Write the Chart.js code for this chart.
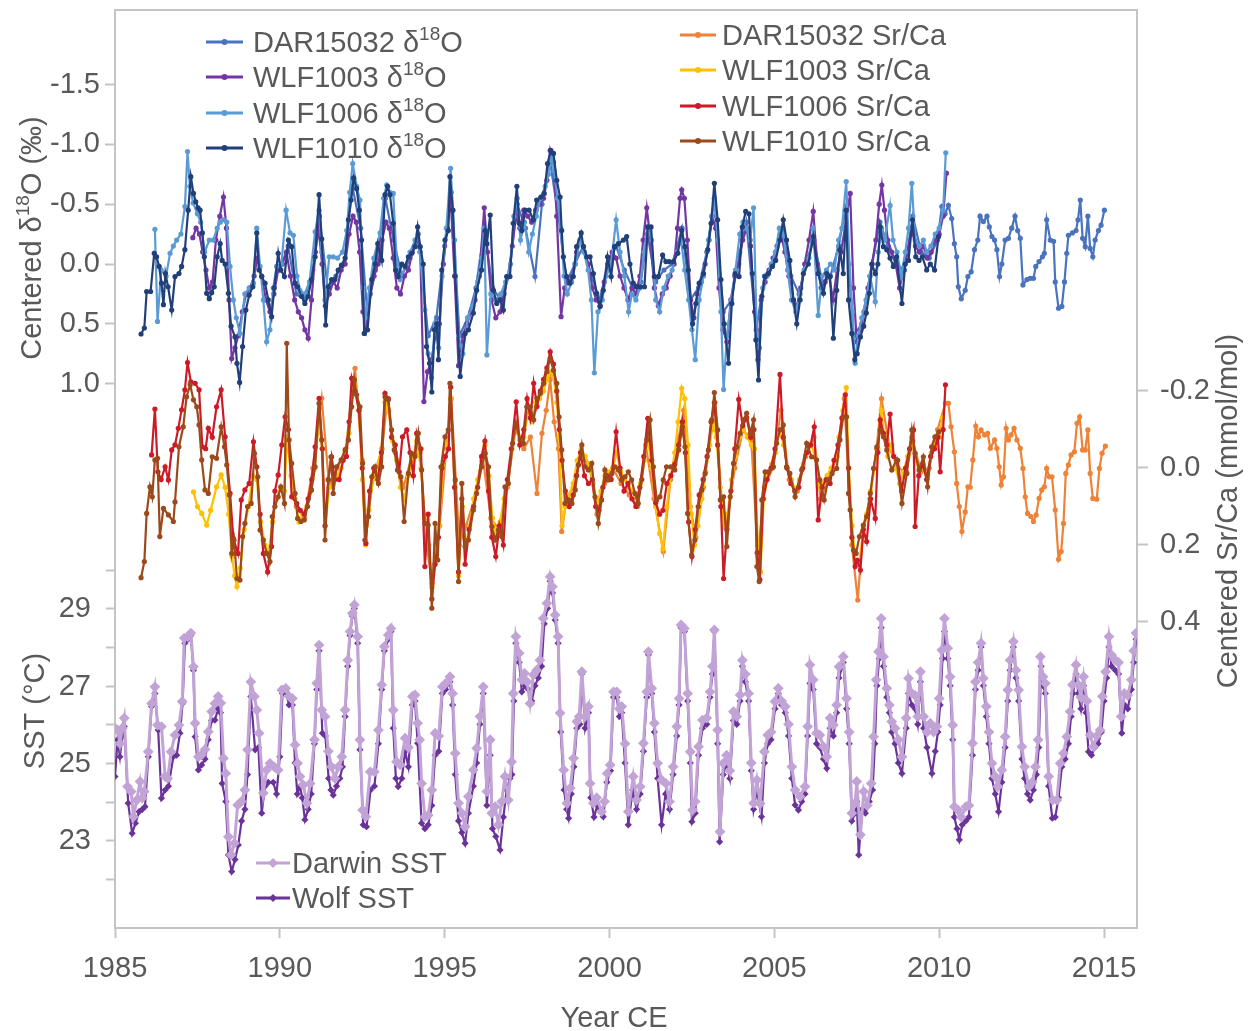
<!DOCTYPE html>
<html>
<head>
<meta charset="utf-8">
<script src="https://cdn.jsdelivr.net/npm/chart.js@4.4.1/dist/chart.umd.min.js"></script>
<style>
html,body{margin:0;padding:0;background:#fff;}
#wrap{width:1250px;height:1031px;}
</style>
</head>
<body>
<div id="wrap"><canvas id="c" width="1250" height="1031"></canvas></div>
<script>
// ---------- tick values ----------
const X_TICKS = [1985, 1990, 1995, 2000, 2005, 2010, 2015];
const O_TICKS = [-1.5, -1.0, -0.5, 0.0, 0.5, 1.0];
const SR_TICKS = [-0.2, 0.0, 0.2, 0.4];
const SST_TICKS = [22, 23, 24, 25, 26, 27, 28, 29, 30];
const SST_LABELS = [23, 25, 27, 29];

// ---------- series names ----------
const CORE_NAMES = ['DAR15032', 'WLF1003', 'WLF1006', 'WLF1010'];
const SST_NAMES = ['Darwin SST', 'Wolf SST'];

// ---------- δ18O series [year, ‰] ----------
const wlf1010_d18O = [[1985.79,0.585],[1985.89,0.535],[1985.96,0.23],[1986.08,0.23],[1986.19,-0.09],[1986.26,-0.06],[1986.34,0.02],[1986.41,0.16],[1986.47,0.34],[1986.53,0.08],[1986.61,0.19],[1986.72,0.385],[1986.82,0.105],[1986.94,0.08],[1987.02,0.02],[1987.12,-0.12],[1987.22,-0.45],[1987.30,-0.73],[1987.38,-0.59],[1987.45,-0.52],[1987.52,-0.47],[1987.58,-0.45],[1987.65,-0.26],[1987.71,-0.06],[1987.78,0.245],[1987.86,0.29],[1987.93,0.24],[1988.01,0.19],[1988.10,-0.06],[1988.19,-0.17],[1988.25,-0.03],[1988.34,0.0],[1988.44,0.245],[1988.52,0.52],[1988.64,0.61],[1988.70,0.83],[1988.78,0.99],[1988.87,0.69],[1988.97,0.385],[1989.07,0.26],[1989.18,0.19],[1989.30,-0.26],[1989.37,0.05],[1989.45,0.105],[1989.55,0.16],[1989.65,0.30],[1989.75,0.44],[1989.83,0.20],[1989.95,-0.09],[1990.03,0.05],[1990.14,0.105],[1990.26,-0.20],[1990.36,-0.145],[1990.46,0.16],[1990.54,0.19],[1990.66,0.27],[1990.76,0.33],[1990.86,0.27],[1990.96,0.13],[1991.07,-0.06],[1991.19,-0.58],[1991.27,-0.21],[1991.39,0.51],[1991.47,0.19],[1991.57,0.13],[1991.67,0.13],[1991.77,0.05],[1991.87,0.01],[1991.98,-0.05],[1992.08,-0.37],[1992.16,-0.535],[1992.24,-0.72],[1992.33,-0.63],[1992.41,-0.45],[1992.48,-0.20],[1992.56,0.58],[1992.66,0.55],[1992.79,0.13],[1992.89,0.0],[1992.97,-0.17],[1993.09,-0.03],[1993.19,-0.58],[1993.27,-0.65],[1993.34,-0.58],[1993.44,-0.34],[1993.51,0.05],[1993.59,0.105],[1993.70,0.0],[1993.80,0.02],[1993.90,-0.06],[1994.00,-0.09],[1994.10,-0.145],[1994.18,-0.31],[1994.26,-0.145],[1994.35,0.0],[1994.45,0.69],[1994.54,0.83],[1994.61,1.07],[1994.69,0.55],[1994.76,0.50],[1994.81,0.80],[1994.91,0.05],[1995.01,-0.20],[1995.11,-0.28],[1995.16,-0.73],[1995.25,-0.45],[1995.32,0.10],[1995.47,0.94],[1995.62,0.58],[1995.72,0.55],[1995.87,0.41],[1995.97,0.22],[1996.12,0.05],[1996.23,-0.28],[1996.28,-0.17],[1996.38,-0.41],[1996.48,0.22],[1996.58,0.33],[1996.68,0.30],[1996.78,0.385],[1996.88,0.105],[1996.98,0.105],[1997.08,-0.34],[1997.19,-0.65],[1997.26,-0.34],[1997.34,-0.28],[1997.44,-0.45],[1997.56,-0.45],[1997.69,-0.37],[1997.79,-0.535],[1997.92,-0.56],[1998.02,-0.59],[1998.12,-0.84],[1998.22,-0.95],[1998.30,-0.925],[1998.40,-0.70],[1998.50,-0.56],[1998.55,-0.28],[1998.60,-0.06],[1998.70,0.105],[1998.80,0.16],[1998.90,0.105],[1999.00,-0.145],[1999.14,-0.26],[1999.21,-0.145],[1999.31,-0.06],[1999.41,-0.06],[1999.51,0.08],[1999.61,0.245],[1999.71,0.355],[1999.81,0.22],[1999.94,-0.06],[2000.05,0.105],[2000.15,-0.145],[2000.27,-0.17],[2000.42,-0.20],[2000.52,-0.23],[2000.62,0.0],[2000.72,0.16],[2000.82,0.19],[2000.93,0.19],[2001.06,0.19],[2001.16,-0.31],[2001.26,-0.31],[2001.36,0.105],[2001.48,0.105],[2001.61,-0.075],[2001.71,-0.02],[2001.81,-0.02],[2001.94,-0.02],[2002.07,-0.09],[2002.19,-0.28],[2002.29,-0.145],[2002.39,0.05],[2002.52,0.50],[2002.62,0.33],[2002.72,0.16],[2002.85,0.08],[2002.98,-0.12],[2003.08,-0.34],[2003.18,-0.675],[2003.28,-0.37],[2003.38,0.13],[2003.48,0.50],[2003.61,0.83],[2003.71,0.33],[2003.81,0.08],[2003.93,0.105],[2004.03,-0.31],[2004.13,-0.44],[2004.23,-0.42],[2004.33,0.08],[2004.44,0.635],[2004.52,0.97],[2004.62,0.27],[2004.72,0.105],[2004.82,0.08],[2004.94,0.02],[2005.04,-0.03],[2005.17,-0.20],[2005.27,-0.37],[2005.37,-0.20],[2005.47,-0.03],[2005.58,0.30],[2005.68,0.50],[2005.78,0.30],[2005.88,0.08],[2006.03,0.0],[2006.18,-0.23],[2006.33,0.08],[2006.49,0.245],[2006.59,0.08],[2006.69,0.105],[2006.79,0.62],[2006.89,0.22],[2006.99,-0.12],[2007.09,0.08],[2007.18,-0.45],[2007.25,0.30],[2007.35,0.58],[2007.44,0.80],[2007.51,0.75],[2007.61,0.61],[2007.71,0.52],[2007.79,0.41],[2007.88,0.245],[2007.96,0.0],[2008.06,0.08],[2008.14,0.0],[2008.21,-0.31],[2008.31,-0.145],[2008.41,-0.12],[2008.51,-0.05],[2008.61,0.02],[2008.71,-0.06],[2008.87,0.33],[2008.97,0.0],[2009.07,-0.03],[2009.19,-0.37],[2009.29,-0.06],[2009.39,-0.03],[2009.49,-0.06],[2009.62,0.05],[2009.73,0.0],[2009.86,0.05],[2009.98,-0.23]];

const wlf1006_d18O = [[1986.21,-0.29],[1986.29,0.48],[1986.40,0.05],[1986.55,0.10],[1986.67,-0.09],[1986.77,-0.15],[1986.87,-0.20],[1987.00,-0.25],[1987.12,-0.48],[1987.20,-0.94],[1987.27,-0.65],[1987.37,-0.51],[1987.50,-0.42],[1987.60,-0.35],[1987.72,-0.10],[1987.86,-0.20],[1987.98,-0.20],[1988.10,-0.30],[1988.19,-0.35],[1988.29,-0.37],[1988.39,-0.35],[1988.49,0.02],[1988.59,0.30],[1988.68,0.45],[1988.79,0.58],[1988.94,0.25],[1989.07,0.20],[1989.20,0.16],[1989.30,-0.30],[1989.40,0.02],[1989.50,0.30],[1989.60,0.65],[1989.70,0.55],[1989.80,0.20],[1989.90,0.02],[1990.05,0.00],[1990.19,-0.45],[1990.31,-0.26],[1990.41,-0.24],[1990.52,0.10],[1990.61,0.22],[1990.75,0.25],[1990.90,0.15],[1991.07,-0.27],[1991.19,-0.45],[1991.27,-0.10],[1991.37,0.30],[1991.50,-0.06],[1991.62,-0.06],[1991.75,-0.05],[1991.90,-0.10],[1992.03,-0.28],[1992.12,-0.60],[1992.21,-0.84],[1992.33,-0.65],[1992.43,-0.535],[1992.52,0.20],[1992.60,0.45],[1992.72,0.20],[1992.85,-0.05],[1993.04,-0.26],[1993.15,-0.55],[1993.24,-0.66],[1993.34,-0.60],[1993.44,-0.59],[1993.55,0.00],[1993.65,0.13],[1993.80,0.02],[1993.95,-0.10],[1994.10,-0.20],[1994.25,-0.10],[1994.40,0.385],[1994.50,0.75],[1994.60,0.95],[1994.70,0.50],[1994.82,0.70],[1994.92,0.10],[1995.05,-0.30],[1995.18,-0.80],[1995.30,-0.20],[1995.42,0.60],[1995.55,0.75],[1995.70,0.45],[1995.85,0.35],[1996.00,0.15],[1996.12,-0.05],[1996.20,-0.30],[1996.28,0.76],[1996.40,0.25],[1996.55,0.30],[1996.70,0.25],[1996.85,0.15],[1997.00,0.00],[1997.10,-0.40],[1997.20,-0.55],[1997.30,-0.20],[1997.42,-0.35],[1997.55,-0.10],[1997.66,-0.25],[1997.78,-0.40],[1997.90,-0.55],[1998.05,-0.65],[1998.15,-0.75],[1998.23,-0.90],[1998.32,-0.78],[1998.42,-0.55],[1998.52,-0.30],[1998.62,0.10],[1998.72,0.25],[1998.85,0.15],[1998.97,0.00],[1999.10,-0.20],[1999.22,-0.10],[1999.35,0.05],[1999.45,0.30],[1999.54,0.91],[1999.65,0.40],[1999.78,0.30],[1999.90,0.10],[2000.05,0.00],[2000.20,-0.37],[2000.32,-0.10],[2000.45,0.10],[2000.58,0.40],[2000.68,0.25],[2000.80,0.30],[2000.92,0.20],[2001.05,-0.10],[2001.15,-0.30],[2001.28,-0.20],[2001.40,0.30],[2001.52,0.40],[2001.65,0.20],[2001.78,0.10],[2001.90,0.05],[2002.05,-0.10],[2002.17,-0.20],[2002.28,0.05],[2002.40,0.30],[2002.50,0.55],[2002.60,0.80],[2002.72,0.30],[2002.85,0.10],[2003.00,-0.20],[2003.10,-0.40],[2003.18,-0.55],[2003.28,-0.20],[2003.38,0.40],[2003.46,1.05],[2003.56,0.60],[2003.70,0.30],[2003.82,0.05],[2003.95,-0.25],[2004.05,-0.35],[2004.15,-0.30],[2004.27,-0.20],[2004.37,-0.47],[2004.47,0.60],[2004.55,0.70],[2004.65,0.20],[2004.78,0.10],[2004.90,0.00],[2005.03,-0.10],[2005.15,-0.30],[2005.27,-0.25],[2005.40,0.05],[2005.52,0.30],[2005.65,0.40],[2005.78,0.25],[2005.90,0.05],[2006.05,-0.05],[2006.18,-0.30],[2006.33,0.43],[2006.45,0.10],[2006.58,0.05],[2006.70,0.00],[2006.82,0.05],[2006.95,-0.20],[2007.05,-0.30],[2007.18,-0.69],[2007.28,0.00],[2007.37,0.40],[2007.45,0.83],[2007.55,0.60],[2007.65,0.45],[2007.78,0.30],[2007.90,0.10],[2008.06,0.315],[2008.15,-0.10],[2008.25,-0.30],[2008.35,-0.20],[2008.51,-0.49],[2008.60,-0.20],[2008.72,-0.10],[2008.85,0.10],[2008.97,-0.10],[2009.07,-0.30],[2009.17,-0.675],[2009.27,-0.20],[2009.40,-0.15],[2009.52,-0.20],[2009.62,-0.10],[2009.75,-0.15],[2009.88,-0.25],[2010.00,-0.30],[2010.12,-0.45],[2010.20,-0.93]];

const wlf1003_d18O = [[1987.36,-0.22],[1987.46,-0.30],[1987.56,-0.25],[1987.66,-0.10],[1987.76,0.05],[1987.86,0.20],[1987.96,0.15],[1988.06,-0.20],[1988.18,-0.40],[1988.29,-0.56],[1988.38,-0.30],[1988.46,0.30],[1988.54,0.79],[1988.64,0.70],[1988.74,0.60],[1988.86,0.40],[1988.98,0.25],[1989.10,0.20],[1989.22,0.10],[1989.32,-0.05],[1989.45,0.10],[1989.58,0.30],[1989.70,0.40],[1989.82,0.25],[1989.95,0.05],[1990.08,0.00],[1990.20,-0.10],[1990.32,0.10],[1990.45,0.30],[1990.56,0.40],[1990.66,0.45],[1990.76,0.55],[1990.86,0.62],[1990.96,0.30],[1991.08,-0.10],[1991.18,-0.30],[1991.28,0.00],[1991.38,0.35],[1991.50,0.25],[1991.62,0.15],[1991.74,0.20],[1991.86,0.05],[1991.98,0.00],[1992.10,-0.25],[1992.22,-0.40],[1992.32,-0.35],[1992.42,-0.10],[1992.52,0.40],[1992.62,0.55],[1992.74,0.25],[1992.86,0.10],[1992.98,0.00],[1993.10,-0.20],[1993.22,-0.35],[1993.32,-0.30],[1993.44,-0.05],[1993.55,0.20],[1993.66,0.25],[1993.78,0.10],[1993.90,0.05],[1994.02,-0.10],[1994.14,-0.20],[1994.26,-0.10],[1994.37,1.15],[1994.48,0.90],[1994.60,0.80],[1994.72,0.60],[1994.84,0.50],[1994.96,0.00],[1995.08,-0.30],[1995.18,-0.55],[1995.30,0.10],[1995.42,0.85],[1995.55,0.60],[1995.68,0.50],[1995.80,0.40],[1995.92,0.30],[1996.05,0.10],[1996.20,-0.47],[1996.30,-0.10],[1996.42,0.30],[1996.55,0.45],[1996.68,0.40],[1996.80,0.25],[1996.92,0.10],[1997.05,-0.15],[1997.16,-0.40],[1997.28,-0.30],[1997.40,-0.45],[1997.52,-0.40],[1997.64,-0.35],[1997.76,-0.45],[1997.88,-0.50],[1998.00,-0.55],[1998.10,-0.70],[1998.20,-0.95],[1998.30,-0.85],[1998.40,-0.40],[1998.53,0.44],[1998.64,0.20],[1998.76,0.15],[1998.88,0.10],[1999.00,-0.10],[1999.12,-0.20],[1999.24,-0.10],[1999.36,0.00],[1999.48,0.20],[1999.60,0.30],[1999.72,0.35],[1999.84,0.15],[1999.96,0.00],[2000.08,-0.10],[2000.20,-0.05],[2000.32,0.10],[2000.44,0.20],[2000.56,0.30],[2000.68,0.20],[2000.80,0.25],[2000.92,0.10],[2001.02,-0.20],[2001.13,-0.47],[2001.24,-0.20],[2001.36,0.20],[2001.48,0.35],[2001.60,0.25],[2001.72,0.20],[2001.84,0.10],[2001.96,0.00],[2002.06,-0.30],[2002.14,-0.55],[2002.19,-0.62],[2002.27,-0.55],[2002.36,-0.20],[2002.46,0.30],[2002.56,0.45],[2002.66,0.25],[2002.78,0.15],[2002.90,0.00],[2003.02,-0.20],[2003.12,-0.40],[2003.22,-0.30],[2003.32,0.20],[2003.44,0.55],[2003.56,0.65],[2003.68,0.30],[2003.80,0.10],[2003.92,0.00],[2004.04,-0.20],[2004.16,-0.30],[2004.28,-0.15],[2004.40,0.40],[2004.50,0.80],[2004.60,0.30],[2004.72,0.15],[2004.84,0.05],[2004.96,-0.05],[2005.08,-0.15],[2005.20,-0.25],[2005.32,-0.10],[2005.44,0.10],[2005.56,0.30],[2005.68,0.35],[2005.80,0.20],[2005.92,0.00],[2006.05,-0.20],[2006.18,-0.44],[2006.30,0.00],[2006.42,0.20],[2006.54,0.15],[2006.66,0.10],[2006.78,0.30],[2006.90,0.05],[2007.02,-0.10],[2007.14,-0.30],[2007.30,-0.59],[2007.40,0.20],[2007.50,0.65],[2007.60,0.55],[2007.72,0.40],[2007.84,0.20],[2007.96,0.00],[2008.08,-0.20],[2008.18,-0.50],[2008.26,-0.66],[2008.34,-0.45],[2008.44,-0.20],[2008.56,-0.10],[2008.68,0.00],[2008.80,0.20],[2008.92,0.05],[2009.04,-0.10],[2009.16,-0.30],[2009.28,-0.15],[2009.40,-0.10],[2009.52,-0.15],[2009.64,-0.05],[2009.76,-0.10],[2009.88,-0.20],[2010.00,-0.25],[2010.12,-0.40],[2010.22,-0.76]];

const dar15032_d18O = [[1990.00,0.05],[1990.25,-0.15],[1990.50,0.25],[1990.75,0.30],[1991.00,0.05],[1991.20,-0.40],[1991.45,0.20],[1991.70,0.10],[1991.95,0.00],[1992.20,-0.65],[1992.45,-0.30],[1992.65,0.40],[1992.90,0.05],[1993.20,-0.55],[1993.45,-0.20],[1993.70,0.10],[1993.95,-0.05],[1994.20,-0.25],[1994.50,0.60],[1994.75,0.45],[1995.00,-0.15],[1995.20,-0.60],[1995.45,0.60],[1995.70,0.45],[1995.95,0.20],[1996.20,-0.30],[1996.45,0.20],[1996.70,0.30],[1996.95,0.10],[1997.20,-0.50],[1997.45,-0.30],[1997.74,0.105],[1997.95,-0.50],[1998.20,-0.85],[1998.45,-0.40],[1998.70,0.15],[1998.95,0.00],[1999.20,-0.15],[1999.45,0.10],[1999.70,0.30],[1999.95,0.00],[2000.20,-0.15],[2000.45,0.05],[2000.70,0.20],[2000.95,0.15],[2001.15,-0.25],[2001.40,0.15],[2001.65,0.05],[2001.90,0.00],[2002.20,-0.30],[2002.45,0.30],[2002.70,0.20],[2002.95,-0.10],[2003.18,-0.55],[2003.45,0.40],[2003.70,0.30],[2003.95,-0.10],[2004.15,-0.35],[2004.45,0.55],[2004.70,0.10],[2004.95,0.00],[2005.25,-0.30],[2005.50,0.10],[2005.75,0.25],[2006.00,-0.05],[2006.20,-0.20],[2006.45,0.15],[2006.70,0.10],[2006.95,-0.15],[2007.15,-0.45],[2007.40,0.60],[2007.65,0.50],[2007.90,0.10],[2008.20,-0.35],[2008.45,-0.15],[2008.70,0.00],[2008.95,0.05],[2009.20,-0.40],[2009.45,-0.10],[2009.70,-0.05],[2009.95,-0.20],[2010.08,-0.48],[2010.18,-0.42],[2010.28,-0.49],[2010.38,-0.38],[2010.46,-0.17],[2010.53,-0.06],[2010.58,0.19],[2010.67,0.29],[2010.79,0.22],[2010.87,0.105],[2010.97,0.065],[2011.07,-0.12],[2011.17,-0.20],[2011.24,-0.40],[2011.34,-0.355],[2011.45,-0.40],[2011.52,-0.31],[2011.60,-0.23],[2011.68,-0.20],[2011.75,-0.12],[2011.83,0.105],[2011.90,0.0],[2012.00,-0.20],[2012.10,-0.215],[2012.20,-0.30],[2012.30,-0.40],[2012.38,-0.28],[2012.46,-0.215],[2012.54,0.175],[2012.66,0.13],[2012.76,0.12],[2012.86,0.12],[2012.93,0.02],[2013.03,-0.02],[2013.13,-0.06],[2013.19,-0.09],[2013.26,-0.37],[2013.37,-0.20],[2013.47,-0.19],[2013.52,0.15],[2013.62,0.37],[2013.72,0.355],[2013.80,0.15],[2013.87,-0.09],[2013.92,-0.24],[2014.04,-0.26],[2014.15,-0.28],[2014.21,-0.37],[2014.28,-0.535],[2014.35,-0.215],[2014.43,-0.145],[2014.51,-0.40],[2014.58,-0.13],[2014.66,-0.06],[2014.73,-0.20],[2014.83,-0.28],[2014.91,-0.325],[2015.01,-0.45]];

// ---------- Sr/Ca series [year, mmol/mol] ----------
const wlf1010_SrCa = [[1985.79,0.285],[1985.89,0.243],[1985.96,0.118],[1986.06,0.049],[1986.13,0.075],[1986.21,-0.021],[1986.29,-0.025],[1986.36,0.178],[1986.47,0.105],[1986.62,0.122],[1986.77,0.139],[1986.82,0.088],[1986.94,-0.055],[1987.07,-0.107],[1987.17,-0.185],[1987.28,-0.216],[1987.38,-0.177],[1987.48,-0.159],[1987.55,-0.112],[1987.63,-0.021],[1987.73,0.057],[1987.83,0.066],[1987.95,-0.029],[1988.08,-0.025],[1988.22,-0.107],[1988.32,-0.055],[1988.39,-0.008],[1988.47,0.070],[1988.54,0.222],[1988.61,0.187],[1988.70,0.287],[1988.79,0.291],[1988.87,0.178],[1988.94,0.144],[1989.02,0.10],[1989.13,0.092],[1989.23,-0.038],[1989.33,0.023],[1989.40,0.161],[1989.50,0.187],[1989.60,0.222],[1989.70,0.243],[1989.77,0.126],[1989.85,0.10],[1989.95,0.075],[1990.03,0.049],[1990.14,0.092],[1990.21,-0.324],[1990.28,-0.073],[1990.36,-0.012],[1990.46,0.066],[1990.54,0.131],[1990.64,0.139],[1990.74,0.135],[1990.84,0.10],[1990.96,0.057],[1991.07,-0.003],[1991.19,-0.168],[1991.27,-0.073],[1991.37,0.187],[1991.47,0.031],[1991.55,-0.029],[1991.62,0.066],[1991.72,-0.003],[1991.86,-0.021],[1991.98,-0.047],[1992.08,-0.073],[1992.18,-0.159],[1992.26,-0.229],[1992.33,-0.19],[1992.43,-0.159],[1992.51,-0.012],[1992.58,0.187],[1992.69,0.126],[1992.79,0.023],[1992.89,-0.003],[1992.99,0.04],[1993.09,-0.003],[1993.19,-0.185],[1993.29,-0.177],[1993.39,-0.099],[1993.47,-0.047],[1993.57,0.005],[1993.67,0.023],[1993.77,0.139],[1993.90,0.014],[1993.99,-0.038],[1994.10,-0.030],[1994.20,-0.09],[1994.30,0.005],[1994.40,0.144],[1994.50,0.148],[1994.61,0.364],[1994.71,0.144],[1994.79,0.239],[1994.89,-0.003],[1995.01,-0.081],[1995.11,-0.099],[1995.16,-0.22],[1995.32,0.031],[1995.42,0.295],[1995.52,0.04],[1995.62,0.204],[1995.72,0.187],[1995.87,0.109],[1995.97,0.066],[1996.12,-0.003],[1996.23,-0.038],[1996.33,-0.003],[1996.43,0.152],[1996.53,0.187],[1996.63,0.161],[1996.73,0.178],[1996.83,0.049],[1996.93,0.04],[1997.06,-0.064],[1997.16,-0.116],[1997.29,-0.073],[1997.39,-0.064],[1997.49,-0.159],[1997.60,-0.159],[1997.70,-0.125],[1997.80,-0.181],[1997.90,-0.194],[1998.00,-0.22],[1998.10,-0.25],[1998.20,-0.285],[1998.30,-0.254],[1998.40,-0.22],[1998.47,-0.133],[1998.55,-0.047],[1998.65,0.092],[1998.76,0.083],[1998.86,0.092],[1998.96,0.057],[1999.06,-0.008],[1999.16,-0.06],[1999.26,-0.003],[1999.36,0.005],[1999.46,-0.012],[1999.56,0.075],[1999.66,0.144],[1999.76,0.083],[1999.86,0.005],[1999.96,0.031],[2000.07,0.014],[2000.17,-0.003],[2000.27,0.005],[2000.37,0.031],[2000.47,0.023],[2000.57,0.010],[2000.67,0.031],[2000.77,0.066],[2000.87,0.092],[2000.98,0.030],[2001.13,-0.073],[2001.23,-0.125],[2001.33,-0.003],[2001.43,0.083],[2001.53,0.075],[2001.63,0.031],[2001.73,-0.003],[2001.86,-0.003],[2001.98,0.005],[2002.10,-0.047],[2002.21,-0.107],[2002.29,-0.055],[2002.37,0.118],[2002.49,0.226],[2002.59,0.187],[2002.69,0.10],[2002.80,0.057],[2002.90,0.014],[2003.00,-0.047],[2003.10,-0.125],[2003.18,-0.196],[2003.28,-0.099],[2003.36,0.083],[2003.46,0.075],[2003.56,0.204],[2003.66,0.075],[2003.76,-0.012],[2003.86,-0.055],[2003.96,-0.09],[2004.06,-0.125],[2004.16,-0.142],[2004.27,-0.09],[2004.37,-0.125],[2004.47,0.256],[2004.54,0.295],[2004.62,0.083],[2004.72,0.01],[2004.82,0.01],[2004.97,-0.003],[2005.07,-0.064],[2005.17,-0.099],[2005.27,-0.112],[2005.37,-0.003],[2005.47,0.014],[2005.63,0.075],[2005.83,0.005],[2005.98,-0.064],[2006.13,-0.029],[2006.28,-0.021],[2006.38,0.031],[2006.51,0.083],[2006.63,0.031],[2006.75,0.014],[2006.89,0.001],[2006.99,-0.073],[2007.09,-0.133],[2007.19,-0.133],[2007.25,0.066],[2007.30,0.109],[2007.40,0.213],[2007.48,0.222],[2007.58,0.178],[2007.70,0.148],[2007.80,0.126],[2007.91,0.066],[2008.01,0.001],[2008.11,-0.055],[2008.21,-0.099],[2008.31,-0.081],[2008.41,-0.047],[2008.56,0.005],[2008.71,-0.021],[2008.87,0.092],[2009.02,0.014],[2009.17,-0.099],[2009.27,-0.038],[2009.39,0.005],[2009.52,-0.029],[2009.65,0.049],[2009.77,-0.055],[2009.87,-0.081],[2009.99,-0.094]];

const wlf1006_SrCa = [[1986.11,-0.034],[1986.21,-0.153],[1986.30,0.010],[1986.40,0.030],[1986.52,-0.003],[1986.62,0.031],[1986.72,-0.047],[1986.82,-0.060],[1986.92,-0.103],[1987.02,-0.151],[1987.12,-0.203],[1987.20,-0.274],[1987.30,-0.224],[1987.43,-0.220],[1987.55,-0.203],[1987.65,-0.055],[1987.75,-0.050],[1987.83,-0.103],[1987.95,-0.080],[1988.08,-0.159],[1988.22,-0.203],[1988.34,-0.081],[1988.49,0.066],[1988.59,0.183],[1988.73,0.222],[1988.83,0.083],[1988.94,0.057],[1989.07,0.040],[1989.20,-0.068],[1989.30,-0.003],[1989.40,0.120],[1989.50,0.222],[1989.63,0.270],[1989.75,0.204],[1989.85,0.060],[1989.95,0.018],[1990.06,-0.060],[1990.16,-0.133],[1990.26,-0.100],[1990.36,0.075],[1990.51,0.092],[1990.62,0.110],[1990.74,0.120],[1990.86,0.080],[1990.97,0.030],[1991.07,-0.055],[1991.19,-0.181],[1991.29,-0.050],[1991.37,0.150],[1991.47,0.030],[1991.57,-0.029],[1991.67,0.030],[1991.80,0.030],[1991.92,-0.020],[1992.02,-0.030],[1992.10,-0.120],[1992.18,-0.233],[1992.28,-0.200],[1992.40,-0.150],[1992.50,0.000],[1992.61,0.196],[1992.72,0.060],[1992.85,0.000],[1992.97,0.030],[1993.08,-0.040],[1993.19,-0.194],[1993.29,-0.180],[1993.39,-0.080],[1993.50,-0.060],[1993.62,0.010],[1993.72,-0.081],[1993.85,-0.099],[1993.95,-0.040],[1994.05,0.020],[1994.15,-0.090],[1994.28,-0.050],[1994.40,0.256],[1994.50,0.120],[1994.61,0.340],[1994.71,0.250],[1994.81,0.180],[1994.92,0.000],[1995.02,-0.030],[1995.12,-0.050],[1995.18,-0.210],[1995.30,0.050],[1995.42,0.270],[1995.52,0.080],[1995.62,0.250],[1995.74,0.160],[1995.88,0.100],[1996.00,0.050],[1996.12,-0.030],[1996.22,-0.070],[1996.33,0.060],[1996.43,0.180],[1996.55,0.230],[1996.66,0.150],[1996.78,0.200],[1996.90,0.030],[1997.02,-0.050],[1997.17,-0.172],[1997.28,-0.060],[1997.40,-0.100],[1997.50,-0.180],[1997.60,-0.130],[1997.70,-0.220],[1997.80,-0.160],[1997.90,-0.200],[1998.00,-0.230],[1998.10,-0.260],[1998.20,-0.302],[1998.30,-0.270],[1998.40,-0.200],[1998.48,-0.100],[1998.56,-0.020],[1998.66,0.060],[1998.78,0.100],[1998.90,0.070],[1999.00,0.020],[1999.12,-0.040],[1999.24,0.020],[1999.36,0.040],[1999.48,0.030],[1999.58,0.100],[1999.68,0.110],[1999.80,0.050],[1999.92,0.020],[2000.05,0.030],[2000.20,-0.094],[2000.32,0.000],[2000.44,0.060],[2000.56,0.040],[2000.68,0.080],[2000.80,0.100],[2000.92,0.050],[2001.04,-0.030],[2001.16,-0.129],[2001.28,-0.020],[2001.40,0.090],[2001.52,0.120],[2001.62,0.110],[2001.74,0.040],[2001.86,0.020],[2001.98,-0.010],[2002.10,-0.060],[2002.21,-0.120],[2002.30,-0.040],[2002.40,0.140],[2002.50,0.230],[2002.60,0.160],[2002.72,0.070],[2002.84,0.030],[2002.96,-0.030],[2003.08,-0.120],[2003.18,-0.170],[2003.28,-0.060],[2003.38,0.100],[2003.46,0.287],[2003.56,0.160],[2003.68,0.060],[2003.80,-0.050],[2003.92,-0.178],[2004.04,-0.110],[2004.16,-0.130],[2004.28,-0.080],[2004.38,-0.100],[2004.48,0.220],[2004.56,0.290],[2004.66,0.080],[2004.78,0.030],[2004.90,0.000],[2005.02,-0.050],[2005.17,-0.243],[2005.27,-0.080],[2005.38,0.000],[2005.50,0.040],[2005.62,0.060],[2005.74,0.050],[2005.86,0.000],[2005.98,-0.040],[2006.10,-0.060],[2006.21,-0.107],[2006.33,0.135],[2006.45,0.050],[2006.57,0.030],[2006.69,0.040],[2006.81,-0.020],[2006.93,-0.060],[2007.05,-0.130],[2007.15,-0.190],[2007.25,0.000],[2007.35,0.180],[2007.45,0.256],[2007.52,0.240],[2007.61,0.265],[2007.70,0.160],[2007.80,0.191],[2007.92,0.080],[2008.06,0.131],[2008.14,-0.040],[2008.21,-0.125],[2008.31,-0.090],[2008.41,-0.060],[2008.51,-0.140],[2008.62,-0.030],[2008.74,-0.020],[2008.86,0.060],[2008.98,0.000],[2009.10,-0.050],[2009.22,-0.099],[2009.27,0.152],[2009.38,0.020],[2009.50,-0.010],[2009.62,0.030],[2009.74,-0.030],[2009.86,-0.050],[2009.96,-0.080],[2010.03,0.010],[2010.12,-0.100],[2010.19,-0.216]];

const wlf1003_SrCa = [[1987.38,0.062],[1987.50,0.100],[1987.63,0.118],[1987.78,0.148],[1987.90,0.110],[1988.08,0.049],[1988.22,0.018],[1988.34,0.050],[1988.45,0.120],[1988.55,0.230],[1988.63,0.280],[1988.70,0.308],[1988.80,0.260],[1988.92,0.160],[1989.05,0.100],[1989.18,0.020],[1989.30,0.030],[1989.42,0.140],[1989.55,0.200],[1989.66,0.220],[1989.78,0.140],[1989.90,0.080],[1990.02,0.050],[1990.14,0.060],[1990.22,-0.080],[1990.34,0.020],[1990.46,0.080],[1990.58,0.140],[1990.70,0.120],[1990.82,0.100],[1990.94,0.060],[1991.06,0.000],[1991.18,-0.120],[1991.28,-0.050],[1991.38,0.150],[1991.50,0.050],[1991.62,0.040],[1991.74,0.020],[1991.86,0.000],[1991.98,-0.040],[1992.10,-0.090],[1992.20,-0.200],[1992.30,-0.210],[1992.40,-0.150],[1992.50,0.030],[1992.60,0.200],[1992.70,0.110],[1992.82,0.030],[1992.95,0.000],[1993.08,-0.050],[1993.19,-0.170],[1993.30,-0.150],[1993.42,-0.070],[1993.55,-0.020],[1993.66,0.050],[1993.78,0.080],[1993.90,0.020],[1994.02,-0.020],[1994.15,-0.070],[1994.28,0.000],[1994.40,0.130],[1994.52,0.200],[1994.62,0.310],[1994.72,0.200],[1994.84,0.150],[1994.95,0.000],[1995.08,-0.060],[1995.18,-0.180],[1995.30,0.050],[1995.42,0.280],[1995.54,0.100],[1995.64,0.200],[1995.76,0.150],[1995.88,0.080],[1996.00,0.030],[1996.12,-0.020],[1996.22,-0.060],[1996.34,0.020],[1996.45,0.130],[1996.56,0.170],[1996.68,0.140],[1996.80,0.080],[1996.92,0.040],[1997.04,-0.050],[1997.16,-0.120],[1997.28,-0.080],[1997.40,-0.080],[1997.52,-0.140],[1997.64,-0.120],[1997.76,-0.170],[1997.88,-0.180],[1998.00,-0.200],[1998.10,-0.230],[1998.20,-0.250],[1998.30,-0.240],[1998.40,-0.170],[1998.48,-0.080],[1998.56,0.150],[1998.66,0.100],[1998.78,0.070],[1998.90,0.040],[1999.02,-0.020],[1999.14,-0.050],[1999.26,-0.030],[1999.38,-0.010],[1999.50,0.040],[1999.62,0.090],[1999.74,0.060],[1999.86,0.020],[1999.98,0.010],[2000.10,0.000],[2000.22,-0.040],[2000.34,0.010],[2000.46,0.030],[2000.58,0.050],[2000.70,0.060],[2000.82,0.080],[2000.94,0.040],[2001.06,-0.020],[2001.16,-0.080],[2001.28,0.000],[2001.40,0.100],[2001.52,0.170],[2001.62,0.210],[2001.74,0.100],[2001.86,0.020],[2001.98,-0.040],[2002.08,-0.120],[2002.19,-0.207],[2002.28,-0.180],[2002.38,-0.060],[2002.48,0.120],[2002.58,0.200],[2002.68,0.150],[2002.80,0.080],[2002.92,0.010],[2003.04,-0.060],[2003.14,-0.120],[2003.24,-0.080],[2003.36,0.050],[2003.46,0.150],[2003.58,0.120],[2003.70,0.030],[2003.82,-0.030],[2003.94,-0.080],[2004.06,-0.100],[2004.18,-0.080],[2004.30,-0.060],[2004.40,-0.050],[2004.50,0.200],[2004.58,0.270],[2004.68,0.080],[2004.80,0.020],[2004.92,-0.010],[2005.04,-0.040],[2005.16,-0.100],[2005.28,-0.060],[2005.40,0.000],[2005.52,0.030],[2005.64,0.060],[2005.76,0.030],[2005.88,-0.010],[2006.00,-0.040],[2006.12,-0.060],[2006.24,-0.030],[2006.36,0.050],[2006.48,0.040],[2006.60,0.020],[2006.72,0.000],[2006.84,-0.020],[2006.96,-0.080],[2007.08,-0.150],[2007.18,-0.209],[2007.26,0.000],[2007.36,0.150],[2007.46,0.240],[2007.56,0.250],[2007.68,0.180],[2007.80,0.120],[2007.92,0.060],[2008.04,0.000],[2008.14,-0.050],[2008.24,-0.150],[2008.34,-0.080],[2008.44,-0.030],[2008.56,-0.060],[2008.68,0.000],[2008.80,0.040],[2008.92,0.010],[2009.04,-0.030],[2009.16,-0.080],[2009.28,-0.020],[2009.40,0.010],[2009.52,0.000],[2009.64,0.020],[2009.76,-0.040],[2009.88,-0.060],[2010.00,-0.080],[2010.10,-0.130]];

const dar15032_SrCa = [[1990.50,0.100],[1990.75,0.130],[1991.00,0.000],[1991.27,-0.181],[1991.50,0.050],[1991.75,0.000],[1992.00,-0.050],[1992.28,-0.259],[1992.50,-0.020],[1992.62,0.150],[1992.85,0.020],[1993.10,-0.050],[1993.25,-0.170],[1993.50,-0.040],[1993.75,0.050],[1994.00,-0.030],[1994.25,-0.040],[1994.45,0.200],[1994.62,0.300],[1994.85,0.150],[1995.05,-0.050],[1995.20,-0.180],[1995.45,0.200],[1995.65,0.150],[1995.90,0.080],[1996.15,-0.030],[1996.40,0.130],[1996.65,0.160],[1996.90,0.050],[1997.15,-0.100],[1997.40,-0.050],[1997.60,-0.080],[1997.80,0.066],[1997.95,-0.090],[1998.08,-0.150],[1998.20,-0.230],[1998.32,-0.120],[1998.45,-0.050],[1998.55,0.165],[1998.70,0.080],[1998.90,0.050],[1999.15,-0.040],[1999.40,0.000],[1999.62,0.120],[1999.85,0.040],[2000.10,0.000],[2000.35,0.040],[2000.60,0.070],[2000.85,0.100],[2001.10,-0.060],[2001.35,0.080],[2001.63,0.217],[2001.85,0.030],[2002.10,-0.080],[2002.25,-0.150],[2002.45,0.100],[2002.62,0.180],[2002.85,0.050],[2003.10,-0.100],[2003.20,-0.170],[2003.40,0.080],[2003.55,0.150],[2003.80,0.000],[2004.05,-0.100],[2004.30,-0.070],[2004.50,0.230],[2004.70,0.050],[2004.95,0.000],[2005.20,-0.150],[2005.45,0.030],[2005.70,0.060],[2005.95,-0.030],[2006.20,-0.080],[2006.40,0.080],[2006.65,0.030],[2006.90,-0.030],[2007.12,-0.180],[2007.35,0.200],[2007.53,0.343],[2007.70,0.150],[2007.90,0.080],[2008.10,-0.050],[2008.25,-0.180],[2008.50,-0.050],[2008.75,0.000],[2009.00,0.010],[2009.20,-0.070],[2009.45,0.010],[2009.70,0.000],[2009.95,-0.100],[2010.19,-0.168],[2010.28,-0.168],[2010.36,-0.107],[2010.46,-0.042],[2010.53,0.040],[2010.61,0.100],[2010.69,0.165],[2010.79,0.114],[2010.87,0.049],[2010.94,0.050],[2011.02,-0.021],[2011.11,-0.109],[2011.19,-0.081],[2011.27,-0.099],[2011.38,-0.086],[2011.47,-0.090],[2011.55,-0.051],[2011.68,-0.073],[2011.75,-0.051],[2011.82,-0.003],[2011.88,0.044],[2011.95,0.023],[2012.03,-0.103],[2012.10,-0.073],[2012.18,-0.086],[2012.27,-0.103],[2012.36,-0.073],[2012.46,-0.051],[2012.54,0.001],[2012.61,0.075],[2012.68,0.118],[2012.78,0.126],[2012.86,0.139],[2012.94,0.122],[2013.03,0.079],[2013.11,0.057],[2013.19,0.049],[2013.26,0.001],[2013.34,0.023],[2013.42,0.023],[2013.52,0.109],[2013.62,0.237],[2013.70,0.217],[2013.77,0.144],[2013.84,0.014],[2013.92,-0.008],[2014.00,-0.034],[2014.10,-0.042],[2014.18,-0.116],[2014.26,-0.133],[2014.35,-0.047],[2014.43,-0.047],[2014.51,-0.099],[2014.58,0.014],[2014.66,0.079],[2014.78,0.081],[2014.86,0.001],[2014.94,-0.038],[2015.04,-0.057]];

// ---------- SST series [year, °C] ----------
const darwinSST = [[1985.00,25.90],[1985.08,25.85],[1985.15,25.50],[1985.22,25.90],[1985.28,26.16],[1985.38,24.39],[1985.49,24.26],[1985.56,23.61],[1985.66,24.04],[1985.76,24.52],[1985.83,24.10],[1985.89,24.26],[1986.01,25.29],[1986.11,26.54],[1986.21,26.97],[1986.29,25.98],[1986.41,25.94],[1986.52,24.65],[1986.60,24.60],[1986.70,25.29],[1986.82,25.72],[1986.94,25.98],[1987.04,26.59],[1987.10,28.23],[1987.22,28.27],[1987.30,28.36],[1987.38,27.49],[1987.43,26.03],[1987.53,25.16],[1987.63,25.21],[1987.73,25.35],[1987.83,25.81],[1987.93,26.33],[1988.03,26.54],[1988.13,26.72],[1988.21,26.55],[1988.29,25.12],[1988.36,24.73],[1988.44,23.09],[1988.52,22.62],[1988.62,22.92],[1988.72,23.91],[1988.83,24.00],[1988.94,24.30],[1989.02,25.34],[1989.12,27.10],[1989.23,26.72],[1989.30,26.37],[1989.37,25.77],[1989.50,24.22],[1989.60,24.82],[1989.70,24.99],[1989.83,24.90],[1989.95,24.82],[1990.06,26.89],[1990.18,26.93],[1990.28,26.72],[1990.38,26.67],[1990.46,25.47],[1990.54,24.99],[1990.61,24.65],[1990.71,24.43],[1990.82,23.96],[1990.92,24.47],[1991.05,25.60],[1991.12,27.06],[1991.19,28.05],[1991.27,26.37],[1991.37,26.20],[1991.47,25.30],[1991.57,24.90],[1991.67,24.60],[1991.77,24.90],[1991.88,25.16],[1991.98,26.37],[1992.06,27.66],[1992.13,28.40],[1992.20,28.87],[1992.26,29.09],[1992.36,28.27],[1992.43,25.60],[1992.51,23.78],[1992.61,23.61],[1992.74,24.77],[1992.87,24.77],[1992.99,25.85],[1993.09,27.02],[1993.17,28.01],[1993.29,28.31],[1993.37,28.48],[1993.44,26.37],[1993.54,25.03],[1993.65,24.95],[1993.80,25.64],[1993.90,25.40],[1994.02,26.72],[1994.10,26.76],[1994.18,26.03],[1994.24,25.60],[1994.30,24.47],[1994.40,23.61],[1994.50,23.65],[1994.61,24.30],[1994.71,25.77],[1994.82,25.70],[1994.93,26.97],[1995.03,27.06],[1995.16,27.23],[1995.24,26.80],[1995.32,25.25],[1995.42,23.96],[1995.52,23.70],[1995.62,23.35],[1995.72,24.13],[1995.87,24.82],[1995.97,25.38],[1996.07,26.20],[1996.17,26.97],[1996.28,24.26],[1996.38,25.60],[1996.43,23.70],[1996.53,23.87],[1996.63,23.40],[1996.73,24.00],[1996.83,24.65],[1996.93,24.04],[1997.03,25.03],[1997.08,26.80],[1997.16,28.27],[1997.26,27.84],[1997.34,27.15],[1997.42,27.32],[1997.50,27.10],[1997.59,26.54],[1997.69,27.28],[1997.79,27.40],[1997.89,27.66],[1997.99,28.74],[1998.10,29.13],[1998.20,29.82],[1998.27,29.56],[1998.35,28.83],[1998.44,28.27],[1998.50,26.29],[1998.61,24.82],[1998.71,23.96],[1998.81,24.35],[1998.91,25.12],[1999.01,26.07],[1999.08,26.20],[1999.16,27.36],[1999.26,26.20],[1999.36,26.46],[1999.41,24.47],[1999.51,23.96],[1999.61,24.10],[1999.76,23.74],[1999.85,24.00],[1999.93,24.73],[2000.02,24.95],[2000.12,26.84],[2000.22,26.84],[2000.30,26.40],[2000.37,26.46],[2000.47,25.50],[2000.57,23.74],[2000.72,24.65],[2000.82,24.04],[2000.93,24.39],[2001.03,25.51],[2001.13,26.84],[2001.18,27.88],[2001.28,26.93],[2001.36,26.03],[2001.46,24.99],[2001.58,24.56],[2001.71,24.47],[2001.82,24.00],[2001.93,24.90],[2002.04,25.94],[2002.11,26.67],[2002.17,28.57],[2002.27,28.48],[2002.37,26.80],[2002.45,25.29],[2002.52,23.78],[2002.60,24.00],[2002.70,25.42],[2002.82,26.11],[2002.95,26.16],[2003.05,26.84],[2003.12,27.50],[2003.18,28.44],[2003.28,25.85],[2003.35,23.22],[2003.45,24.99],[2003.55,25.20],[2003.65,24.80],[2003.76,26.33],[2003.86,26.20],[2003.96,26.76],[2004.03,27.66],[2004.12,27.30],[2004.22,26.80],[2004.30,25.00],[2004.37,23.96],[2004.47,24.56],[2004.57,23.95],[2004.70,25.29],[2004.80,25.72],[2004.90,25.80],[2005.02,26.59],[2005.12,26.93],[2005.22,26.60],[2005.33,26.46],[2005.43,26.00],[2005.53,24.90],[2005.63,24.30],[2005.78,24.13],[2005.93,24.39],[2006.01,25.94],[2006.08,27.54],[2006.18,27.15],[2006.28,25.77],[2006.38,25.72],[2006.49,25.42],[2006.59,25.16],[2006.69,26.16],[2006.79,25.98],[2006.89,26.50],[2006.96,27.49],[2007.09,27.75],[2007.19,26.67],[2007.27,25.80],[2007.35,23.70],[2007.45,23.96],[2007.50,24.52],[2007.61,23.14],[2007.71,24.26],[2007.82,23.90],[2007.94,24.47],[2008.01,25.68],[2008.09,27.15],[2008.16,27.88],[2008.24,28.74],[2008.31,27.75],[2008.41,26.93],[2008.49,26.50],[2008.56,26.07],[2008.66,25.90],[2008.76,25.60],[2008.87,25.16],[2009.00,26.16],[2009.07,27.19],[2009.17,26.80],[2009.27,26.75],[2009.35,26.20],[2009.43,27.36],[2009.53,26.20],[2009.63,25.80],[2009.73,26.03],[2009.83,25.80],[2009.93,25.94],[2010.00,26.67],[2010.08,27.92],[2010.16,28.74],[2010.26,27.97],[2010.33,27.23],[2010.41,25.98],[2010.46,23.87],[2010.57,23.78],[2010.67,23.60],[2010.81,23.87],[2010.90,23.90],[2011.01,25.51],[2011.10,27.10],[2011.18,27.60],[2011.27,28.10],[2011.34,27.19],[2011.43,26.46],[2011.51,25.80],[2011.60,24.99],[2011.70,24.65],[2011.78,24.39],[2011.90,24.82],[2012.00,25.68],[2012.08,26.89],[2012.15,27.66],[2012.25,28.14],[2012.33,27.40],[2012.41,26.89],[2012.51,25.42],[2012.59,24.90],[2012.72,24.39],[2012.82,24.50],[2012.92,24.90],[2013.00,25.60],[2013.07,27.75],[2013.15,27.23],[2013.22,27.06],[2013.32,24.65],[2013.44,24.04],[2013.57,24.04],[2013.67,24.99],[2013.77,25.25],[2013.87,25.68],[2013.97,26.33],[2014.04,27.02],[2014.15,27.54],[2014.22,27.02],[2014.30,26.70],[2014.38,27.23],[2014.48,26.60],[2014.58,25.72],[2014.68,25.42],[2014.78,25.70],[2014.88,25.85],[2014.95,26.72],[2015.05,27.36],[2015.15,28.27],[2015.23,27.79],[2015.34,27.66],[2015.44,27.60],[2015.52,26.20],[2015.62,26.80],[2015.72,26.75],[2015.83,27.15],[2015.90,27.90],[2015.97,28.36]];

const wolfSST = [[1985.00,24.65],[1985.08,25.60],[1985.15,25.16],[1985.22,25.70],[1985.28,25.94],[1985.40,23.96],[1985.52,23.18],[1985.62,23.44],[1985.73,23.74],[1985.83,23.80],[1985.91,23.87],[1986.01,25.16],[1986.11,26.46],[1986.21,26.80],[1986.31,25.85],[1986.41,24.09],[1986.52,24.30],[1986.62,24.40],[1986.77,25.16],[1986.87,25.20],[1986.97,25.77],[1987.05,26.54],[1987.12,28.10],[1987.22,28.20],[1987.30,28.30],[1987.38,27.40],[1987.43,25.68],[1987.53,24.82],[1987.63,24.95],[1987.73,25.10],[1987.83,25.60],[1987.93,26.10],[1988.03,26.11],[1988.13,26.40],[1988.20,26.30],[1988.25,24.47],[1988.36,24.00],[1988.44,22.62],[1988.54,22.19],[1988.64,22.50],[1988.74,22.88],[1988.84,23.50],[1988.94,23.80],[1989.02,24.70],[1989.12,26.72],[1989.25,25.34],[1989.35,25.40],[1989.45,23.70],[1989.55,24.40],[1989.65,24.50],[1989.80,24.50],[1989.90,24.20],[1990.00,25.16],[1990.08,26.80],[1990.18,26.85],[1990.28,26.50],[1990.38,26.50],[1990.46,25.00],[1990.53,24.20],[1990.61,24.39],[1990.68,24.10],[1990.76,23.53],[1990.86,23.80],[1990.95,24.20],[1991.05,25.50],[1991.12,26.90],[1991.19,27.90],[1991.29,25.77],[1991.38,25.70],[1991.48,24.60],[1991.55,24.30],[1991.62,24.17],[1991.72,24.40],[1991.82,24.60],[1991.90,24.90],[1991.98,26.20],[1992.06,27.50],[1992.13,28.30],[1992.20,28.80],[1992.26,29.00],[1992.36,28.10],[1992.43,25.34],[1992.53,23.40],[1992.63,23.35],[1992.75,24.30],[1992.87,24.40],[1992.99,25.50],[1993.09,26.90],[1993.17,27.90],[1993.29,28.20],[1993.37,28.40],[1993.44,25.90],[1993.52,24.60],[1993.59,24.39],[1993.70,24.60],[1993.80,25.30],[1993.90,24.90],[1994.02,26.50],[1994.10,26.60],[1994.18,25.51],[1994.30,23.44],[1994.40,23.30],[1994.50,23.40],[1994.61,23.90],[1994.71,25.20],[1994.82,25.30],[1994.93,26.80],[1995.03,26.90],[1995.16,27.10],[1995.24,26.50],[1995.32,24.70],[1995.42,23.50],[1995.52,23.20],[1995.62,22.92],[1995.72,23.70],[1995.87,24.40],[1995.97,25.00],[1996.07,26.00],[1996.17,26.80],[1996.28,23.90],[1996.38,25.20],[1996.45,23.30],[1996.55,23.10],[1996.68,22.75],[1996.78,23.60],[1996.88,24.30],[1996.98,24.60],[1997.04,24.70],[1997.10,26.60],[1997.16,28.10],[1997.26,27.60],[1997.34,26.84],[1997.44,27.00],[1997.54,26.90],[1997.64,26.60],[1997.74,27.00],[1997.84,27.20],[1997.94,27.50],[1998.02,28.60],[1998.12,29.00],[1998.20,29.70],[1998.27,29.40],[1998.35,28.70],[1998.44,28.10],[1998.52,25.80],[1998.62,24.30],[1998.70,23.80],[1998.76,23.57],[1998.84,24.20],[1998.92,24.90],[1999.01,25.90],[1999.10,26.00],[1999.16,27.30],[1999.26,25.90],[1999.36,26.30],[1999.43,24.10],[1999.53,23.60],[1999.63,23.90],[1999.72,23.80],[1999.81,23.61],[1999.92,24.50],[2000.03,24.80],[2000.12,26.70],[2000.22,26.70],[2000.30,26.20],[2000.37,26.30],[2000.47,25.00],[2000.57,23.40],[2000.70,24.30],[2000.82,23.80],[2000.93,24.20],[2001.03,25.30],[2001.13,26.70],[2001.18,27.80],[2001.28,26.80],[2001.36,25.80],[2001.46,24.60],[2001.58,23.40],[2001.70,24.20],[2001.82,23.80],[2001.93,24.70],[2002.04,25.70],[2002.11,26.50],[2002.17,28.50],[2002.27,28.40],[2002.37,26.60],[2002.45,25.00],[2002.50,23.48],[2002.60,23.70],[2002.70,25.20],[2002.82,25.90],[2002.95,26.00],[2003.05,26.70],[2003.12,27.30],[2003.18,28.40],[2003.28,25.50],[2003.34,22.96],[2003.45,24.70],[2003.55,25.00],[2003.65,24.60],[2003.76,26.10],[2003.86,26.00],[2003.96,26.60],[2004.03,27.50],[2004.12,27.10],[2004.22,26.60],[2004.30,24.80],[2004.37,23.80],[2004.47,24.30],[2004.61,23.61],[2004.70,25.00],[2004.80,25.50],[2004.90,25.60],[2005.02,26.40],[2005.12,26.80],[2005.22,26.50],[2005.33,26.30],[2005.43,25.70],[2005.53,24.60],[2005.63,23.91],[2005.73,23.78],[2005.83,24.00],[2005.93,24.20],[2006.01,25.70],[2006.08,27.06],[2006.18,26.90],[2006.28,25.50],[2006.38,25.40],[2006.49,25.10],[2006.59,24.86],[2006.69,25.90],[2006.79,25.70],[2006.89,26.30],[2006.96,27.20],[2007.09,27.60],[2007.19,26.40],[2007.27,25.50],[2007.35,23.50],[2007.45,23.70],[2007.50,24.00],[2007.56,22.62],[2007.66,23.80],[2007.76,23.70],[2007.88,24.00],[2007.98,24.30],[2008.05,25.50],[2008.11,27.00],[2008.18,27.70],[2008.24,28.50],[2008.31,27.50],[2008.41,26.70],[2008.49,26.30],[2008.56,25.80],[2008.66,25.50],[2008.76,25.00],[2008.87,24.73],[2009.00,25.90],[2009.07,26.80],[2009.17,26.50],[2009.27,26.40],[2009.35,26.00],[2009.43,27.10],[2009.53,25.90],[2009.63,25.40],[2009.78,24.73],[2009.88,25.30],[2009.96,25.80],[2010.03,26.50],[2010.10,27.70],[2010.16,28.40],[2010.26,27.70],[2010.33,27.00],[2010.41,25.60],[2010.46,23.60],[2010.54,23.30],[2010.61,23.01],[2010.70,23.40],[2010.81,23.50],[2010.90,23.60],[2011.01,25.20],[2011.10,26.90],[2011.18,27.40],[2011.27,28.00],[2011.34,27.00],[2011.43,26.20],[2011.51,25.50],[2011.60,24.60],[2011.70,24.20],[2011.80,23.74],[2011.90,24.50],[2012.00,25.40],[2012.08,26.60],[2012.15,27.40],[2012.25,28.00],[2012.33,27.20],[2012.41,26.60],[2012.51,25.10],[2012.59,24.60],[2012.68,24.20],[2012.76,24.04],[2012.86,24.30],[2012.95,24.70],[2013.02,25.40],[2013.09,27.50],[2013.15,27.00],[2013.22,26.80],[2013.32,24.40],[2013.43,23.57],[2013.52,23.60],[2013.62,24.10],[2013.72,24.90],[2013.82,25.10],[2013.92,25.50],[2014.00,26.20],[2014.06,26.80],[2014.15,27.30],[2014.22,26.80],[2014.30,26.40],[2014.38,27.00],[2014.45,26.30],[2014.53,25.29],[2014.62,25.20],[2014.72,25.40],[2014.82,25.50],[2014.92,25.80],[2015.00,26.60],[2015.08,27.20],[2015.15,28.00],[2015.23,27.50],[2015.34,27.40],[2015.44,27.30],[2015.54,25.77],[2015.62,26.50],[2015.72,26.40],[2015.83,26.90],[2015.90,27.60],[2015.97,28.20]];

// ---------- styling ----------
const TEXT = '#595959';
const AXIS = '#c4c4c4';
const FONT = '"Liberation Sans", Arial, Helvetica, sans-serif';
const FS = 29;
const COL = {
  darO: '#4a73bf', w3O: '#7436a2', w6O: '#5b9bd5', w10O: '#21407a',
  darSr: '#ee8236', w3Sr: '#ffc000', w6Sr: '#cc1b27', w10Sr: '#9c4a1c',
  darwin: '#c2a3d6', wolf: '#6b3399'
};

const toXY = arr => arr.map(p => ({x: p[0], y: p[1]}));
function coreSet(label, data, color, axis, order) {
  return { label, data: toXY(data), yAxisID: axis, xAxisID: 'x', order,
    borderColor: color, backgroundColor: color, borderWidth: 2.2,
    pointRadius: 2.6, pointHoverRadius: 2.6, pointBorderWidth: 0,
    pointBackgroundColor: color, pointStyle: 'circle', tension: 0, fill: false };
}
function sstSet(label, data, color, r, bw, order) {
  return { label, data: toXY(data), yAxisID: 'ySST', xAxisID: 'x', order,
    borderColor: color, backgroundColor: color, borderWidth: bw,
    pointRadius: r, pointHoverRadius: r, pointBorderWidth: 0,
    pointBackgroundColor: color, pointStyle: 'rectRot', tension: 0, fill: false };
}

const datasets = [
  coreSet(CORE_NAMES[3] + ' δ18O', wlf1010_d18O, COL.w10O, 'yO', 6),
  coreSet(CORE_NAMES[2] + ' δ18O', wlf1006_d18O, COL.w6O, 'yO', 7),
  coreSet(CORE_NAMES[1] + ' δ18O', wlf1003_d18O, COL.w3O, 'yO', 8),
  coreSet(CORE_NAMES[0] + ' δ18O', dar15032_d18O, COL.darO, 'yO', 9),
  coreSet(CORE_NAMES[3] + ' Sr/Ca', wlf1010_SrCa, COL.w10Sr, 'ySr', 2),
  coreSet(CORE_NAMES[2] + ' Sr/Ca', wlf1006_SrCa, COL.w6Sr, 'ySr', 3),
  coreSet(CORE_NAMES[1] + ' Sr/Ca', wlf1003_SrCa, COL.w3Sr, 'ySr', 4),
  coreSet(CORE_NAMES[0] + ' Sr/Ca', dar15032_SrCa, COL.darSr, 'ySr', 5),
  sstSet(SST_NAMES[0], darwinSST, COL.darwin, 5.4, 3, 10),
  sstSet(SST_NAMES[1], wolfSST, COL.wolf, 3.6, 2.2, 11)
];

// draw text with a superscript part: parts = [[text, isSup], ...]
function richWidth(ctx, parts, size) {
  let w = 0;
  parts.forEach(p => { ctx.font = (p[1] ? Math.round(size*0.66) : size) + 'px ' + FONT; w += ctx.measureText(p[0]).width; });
  return w;
}
function drawRich(ctx, parts, x, y, size) {
  let cx = x;
  parts.forEach(p => {
    const s = p[1] ? Math.round(size*0.66) : size;
    ctx.font = s + 'px ' + FONT;
    ctx.fillText(p[0], cx, p[1] ? y - size*0.40 : y);
    cx += ctx.measureText(p[0]).width;
  });
}
function marker(ctx, style, x, y, r, color) {
  ctx.fillStyle = color;
  ctx.beginPath();
  if (style === 'rectRot') { ctx.moveTo(x, y-r); ctx.lineTo(x+r, y); ctx.lineTo(x, y+r); ctx.lineTo(x-r, y); ctx.closePath(); }
  else { ctx.arc(x, y, r, 0, Math.PI*2); }
  ctx.fill();
}
function legendRow(ctx, x0, x1, baseline, color, style, r, parts, tx) {
  const ly = baseline - 10;
  ctx.strokeStyle = color; ctx.lineWidth = 3;
  ctx.beginPath(); ctx.moveTo(x0, ly); ctx.lineTo(x1, ly); ctx.stroke();
  marker(ctx, style, (x0+x1)/2, ly, r, color);
  ctx.fillStyle = TEXT; ctx.textAlign = 'left'; ctx.textBaseline = 'alphabetic';
  drawRich(ctx, parts, tx, baseline, FS);
}

const decor = {
  id: 'decor',
  afterDraw(chart) {
    const ctx = chart.ctx, ca = chart.chartArea;
    ctx.save();
    // top frame line
    ctx.strokeStyle = AXIS; ctx.lineWidth = 2;
    ctx.beginPath(); ctx.moveTo(ca.left, ca.top); ctx.lineTo(ca.right, ca.top); ctx.stroke();
    // SST axis ticks and labels (left side, lower half)
    const sS = chart.scales.ySST;
    SST_TICKS.forEach(v => {
      const y = Math.round(sS.getPixelForValue(v)) + 0.5;
      ctx.beginPath(); ctx.moveTo(ca.left - 9, y); ctx.lineTo(ca.left, y); ctx.stroke();
    });
    ctx.fillStyle = TEXT; ctx.font = FS + 'px ' + FONT;
    ctx.textAlign = 'right'; ctx.textBaseline = 'middle';
    SST_LABELS.forEach(v => ctx.fillText(String(v), 91, sS.getPixelForValue(v) + 1));

    // axis titles
    ctx.textBaseline = 'alphabetic'; ctx.textAlign = 'left';
    const tO = [['Centered δ', false], ['18', true], ['O (‰)', false]];
    let w = richWidth(ctx, tO, FS);
    ctx.save(); ctx.translate(41, 238); ctx.rotate(-Math.PI/2);
    drawRich(ctx, tO, -w/2, 0, FS); ctx.restore();

    const tS = [['SST (°C)', false]];
    w = richWidth(ctx, tS, FS);
    ctx.save(); ctx.translate(44, 711); ctx.rotate(-Math.PI/2);
    drawRich(ctx, tS, -w/2, 0, FS); ctx.restore();

    const tR = [['Centered Sr/Ca (mmol/mol)', false]];
    w = richWidth(ctx, tR, FS);
    ctx.save(); ctx.translate(1237, 511); ctx.rotate(-Math.PI/2);
    drawRich(ctx, tR, -w/2, 0, FS); ctx.restore();

    const tX = [['Year CE', false]];
    w = richWidth(ctx, tX, FS);
    drawRich(ctx, tX, 614 - w/2, 1027, FS);

    // legends: δ18O (upper left)
    const oCols = [COL.darO, COL.w3O, COL.w6O, COL.w10O];
    const oBase = [52, 87, 123, 158];
    CORE_NAMES.forEach((n, i) => legendRow(ctx, 206, 243, oBase[i], oCols[i], 'circle', 3,
      [[n + ' δ', false], ['18', true], ['O', false]], 253));
    // legends: Sr/Ca (upper right)
    const sCols = [COL.darSr, COL.w3Sr, COL.w6Sr, COL.w10Sr];
    const sBase = [45, 80, 116, 151];
    CORE_NAMES.forEach((n, i) => legendRow(ctx, 680, 716, sBase[i], sCols[i], 'circle', 3,
      [[n + ' Sr/Ca', false]], 722));
    // legends: SST (lower left)
    legendRow(ctx, 256, 290, 873, COL.darwin, 'rectRot', 5, [[SST_NAMES[0], false]], 292);
    legendRow(ctx, 256, 290, 908, COL.wolf, 'rectRot', 4, [[SST_NAMES[1], false]], 292);
    ctx.restore();
  }
};

function zeroPad(s) { s.paddingTop = 0; s.paddingBottom = 0; s.paddingLeft = 0; s.paddingRight = 0; }
const tickFont = { family: FONT, size: FS };
const cfg = {
  type: 'line',
  data: { datasets },
  options: {
    responsive: false, animation: false, devicePixelRatio: 1,
    parsing: false, normalized: true,
    layout: { padding: { top: 10, left: 0, right: 0, bottom: 0 } },
    plugins: { legend: { display: false }, tooltip: { enabled: false }, title: { display: false } },
    scales: {
      x: {
        type: 'linear', position: 'bottom', min: 1985, max: 2016,
        afterBuildTicks: s => { s.ticks = X_TICKS.map(v => ({ value: v })); },
        afterFit: s => { s.height = 103; zeroPad(s); },
        ticks: { color: TEXT, font: tickFont, padding: 14, maxRotation: 0, autoSkip: false,
                 callback: v => String(v) },
        grid: { drawOnChartArea: false, drawTicks: true, tickLength: 10, tickColor: AXIS, tickWidth: 2 },
        border: { display: true, color: AXIS, width: 2 }
      },
      yO: {
        type: 'linear', position: 'left', reverse: true, min: -2.124, max: 5.552,
        afterBuildTicks: s => { s.ticks = O_TICKS.map(v => ({ value: v })); },
        afterFit: s => { s.width = 115; zeroPad(s); },
        ticks: { color: TEXT, font: tickFont, padding: 5, autoSkip: false,
                 callback: v => Number(v).toFixed(1) },
        grid: { drawOnChartArea: false, drawTicks: true, tickLength: 10, tickColor: AXIS, tickWidth: 2 },
        border: { display: true, color: AXIS, width: 2 }
      },
      ySr: {
        type: 'linear', position: 'right', reverse: true, min: -1.1896, max: 1.1948,
        afterBuildTicks: s => { s.ticks = SR_TICKS.map(v => ({ value: v })); },
        afterFit: s => { s.width = 113; zeroPad(s); },
        ticks: { color: TEXT, font: tickFont, padding: 12, autoSkip: false,
                 callback: v => Number(v).toFixed(1) },
        grid: { drawOnChartArea: false, drawTicks: true, tickLength: 11, tickColor: AXIS, tickWidth: 2 },
        border: { display: true, color: AXIS, width: 2 }
      },
      ySST: {
        type: 'linear', position: 'left', display: false, min: 20.73, max: 44.48
      }
    }
  },
  plugins: [decor]
};
new Chart(document.getElementById('c'), cfg);
</script>
</body>
</html>
